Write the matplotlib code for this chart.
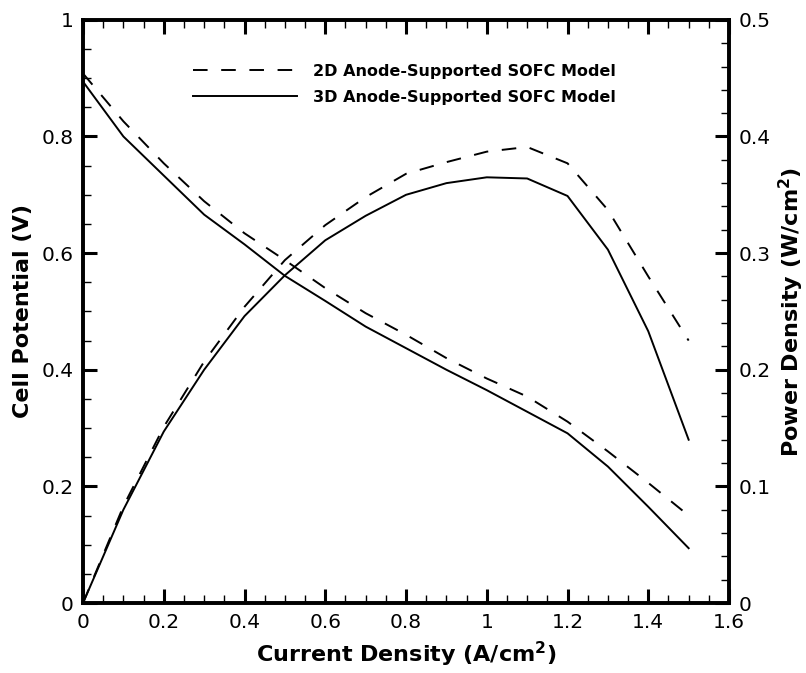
import matplotlib
matplotlib.use("Agg")
import matplotlib.pyplot as plt
from matplotlib.ticker import MultipleLocator, FuncFormatter

plt.rcParams['font.family'] = ['DejaVu Sans']
plt.rcParams['mathtext.default'] = 'regular'

# Current density (A/cm^2)
current = [0.0, 0.1, 0.2, 0.3, 0.4, 0.5, 0.6, 0.7, 0.8, 0.9, 1.0,
           1.1, 1.2, 1.3, 1.4, 1.5]

# Cell potential (V)
potential_2d = [0.908, 0.826, 0.754, 0.689, 0.634, 0.588, 0.540, 0.497,
                0.460, 0.420, 0.385, 0.354, 0.311, 0.260, 0.206, 0.150]
potential_3d = [0.894, 0.800, 0.733, 0.666, 0.615, 0.561, 0.518, 0.474,
                0.437, 0.400, 0.365, 0.328, 0.291, 0.234, 0.165, 0.094]

# Power density (W/cm^2)
power_2d = [0.0, 0.083, 0.151, 0.207, 0.254, 0.294, 0.324, 0.348,
            0.368, 0.378, 0.387, 0.391, 0.377, 0.337, 0.280, 0.225]
power_3d = [0.0, 0.080, 0.147, 0.200, 0.246, 0.281, 0.311, 0.332,
            0.350, 0.360, 0.365, 0.364, 0.349, 0.303, 0.233, 0.140]

labels = ['2D Anode-Supported SOFC Model', '3D Anode-Supported SOFC Model']

fig = plt.figure(figsize=(8.06, 6.73), dpi=100)
ax = fig.add_axes([0.103, 0.104, 0.8015, 0.8665])
ax2 = ax.twinx()

lw = 1.4
dash = (7.5, 7)
ax.plot(current, potential_2d, color='black', lw=lw, dashes=dash, label=labels[0])
ax.plot(current, potential_3d, color='black', lw=lw, label=labels[1])
ax2.plot(current, power_2d, color='black', lw=lw, dashes=dash)
ax2.plot(current, power_3d, color='black', lw=lw)

ax.set_xlim(0, 1.6)
ax.set_ylim(0, 1)
ax2.set_ylim(0, 0.5)

fmt = FuncFormatter(lambda v, p: '%g' % round(v, 3))
ax.xaxis.set_major_locator(MultipleLocator(0.2))
ax.xaxis.set_minor_locator(MultipleLocator(0.05))
ax.yaxis.set_major_locator(MultipleLocator(0.2))
ax.yaxis.set_minor_locator(MultipleLocator(0.05))
ax2.yaxis.set_major_locator(MultipleLocator(0.1))
ax2.yaxis.set_minor_locator(MultipleLocator(0.02))
for a in (ax.xaxis, ax.yaxis, ax2.yaxis):
    a.set_major_formatter(fmt)

tick_fs = 14.5
ax.tick_params(axis='x', which='both', direction='in', top=True, bottom=True,
               labelsize=tick_fs, pad=7)
ax.tick_params(axis='y', which='both', direction='in', left=True, right=False,
               labelsize=tick_fs, pad=7)
ax2.tick_params(axis='y', which='both', direction='in', right=True, left=False,
                labelsize=tick_fs, pad=7)
for a in (ax, ax2):
    a.tick_params(which='major', length=10, width=2.2)
    a.tick_params(which='minor', length=6, width=1.0)
    for s in a.spines.values():
        s.set_linewidth(2.6)

label_font = dict(fontsize=16, fontweight='bold')
ax.set_xlabel('Current Density (A/cm$^{2}$)', labelpad=6, **label_font)
ax.set_ylabel('Cell Potential (V)', labelpad=6, **label_font)
ax2.set_ylabel('Power Density (W/cm$^{2}$)', labelpad=4, **label_font)

ax.legend(loc='upper left', bbox_to_anchor=(0.170, 0.925), frameon=False,
          borderpad=0, borderaxespad=0, handlelength=6.5, handletextpad=1.0,
          labelspacing=0.7, prop=dict(size=11.5, weight='bold'))

fig.savefig('out.png', dpi=100)
